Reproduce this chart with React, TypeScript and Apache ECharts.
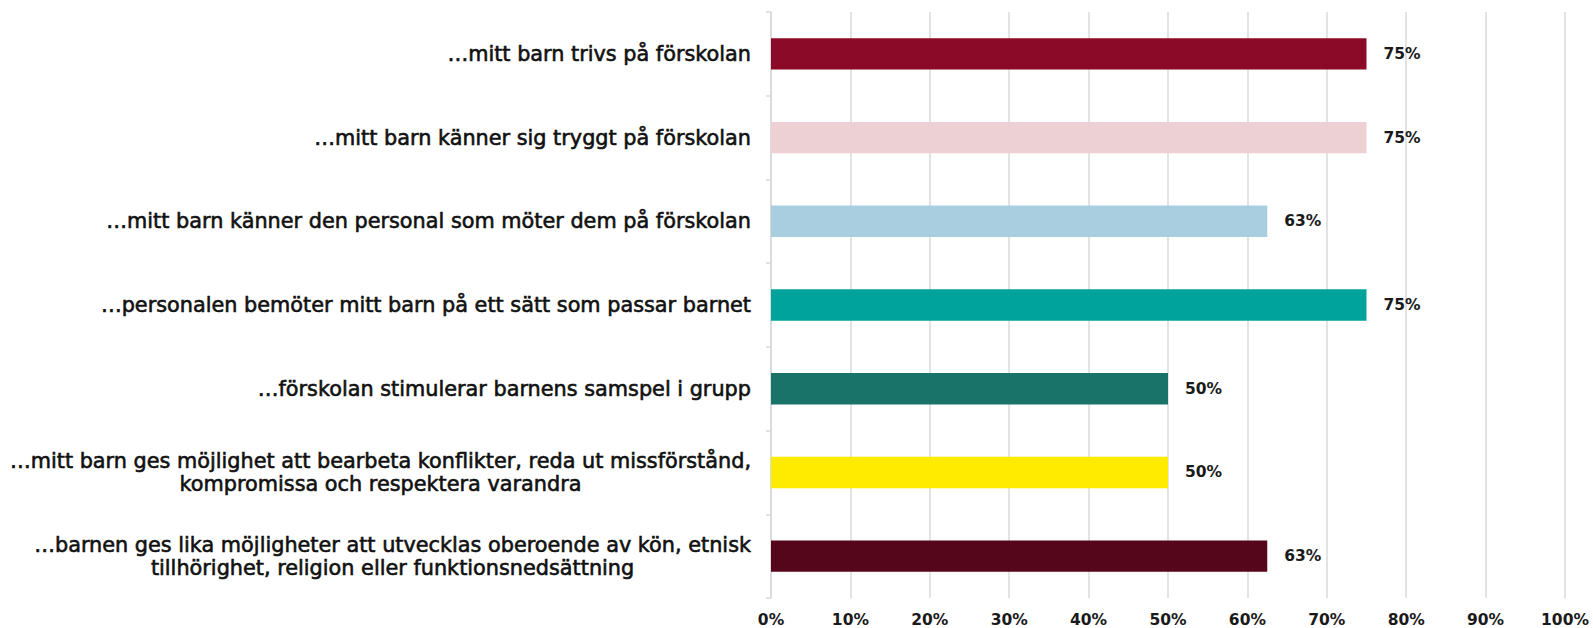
import React, { useEffect, useRef } from "react";
import * as echarts from "echarts";

const categories: string[] = [
  "…mitt barn trivs på förskolan",
  "…mitt barn känner sig tryggt på förskolan",
  "…mitt barn känner den personal som möter dem på förskolan",
  "…personalen bemöter mitt barn på ett sätt som passar barnet",
  "…förskolan stimulerar barnens samspel i grupp",
  "…mitt barn ges möjlighet att bearbeta konflikter, reda ut missförstånd,\nkompromissa och respektera varandra",
  "…barnen ges lika möjligheter att utvecklas oberoende av kön, etnisk\ntillhörighet, religion eller funktionsnedsättning",
];

const values: number[] = [75, 75, 62.5, 75, 50, 50, 62.5];

const barColors: string[] = [
  "#8B0A27",
  "#EDD0D3",
  "#A9CEE0",
  "#00A39B",
  "#1A7369",
  "#FFEB00",
  "#56061A",
];

const catFont = "'DejaVu Sans', sans-serif";
const numFont = "'DejaVu Sans', sans-serif";

export default function App() {
  const ref = useRef<HTMLDivElement>(null);
  useEffect(() => {
    document.body.style.margin = "0";
    if (!ref.current) return;
    const chart = echarts.init(ref.current, undefined, { renderer: "svg" });
    chart.setOption({
      animation: false,
      backgroundColor: "#ffffff",
      grid: { left: 771, right: 28, top: 12, bottom: 30, containLabel: false },
      xAxis: {
        type: "value",
        min: 0,
        max: 100,
        interval: 10,
        axisLine: { show: false },
        axisTick: { show: false },
        splitLine: { show: true, lineStyle: { color: "#e3e3e3", width: 2 } },
        axisLabel: {
          formatter: "{value}%",
          color: "#1a1a1a",
          fontFamily: numFont,
          fontWeight: "bold",
          fontSize: 15.5,
          margin: 14,
        },
      },
      yAxis: {
        type: "category",
        inverse: true,
        data: categories,
        axisLine: { show: true, lineStyle: { color: "#d9d9d9", width: 1.5 } },
        axisTick: { show: true, length: 5, lineStyle: { color: "#d9d9d9", width: 1.5 } },
        axisLabel: {
          margin: 20,
          formatter: (v: string) =>
            v.split("\n").map((l) => "{c|" + l + "}").join("\n"),
          rich: {
            c: {
              align: "center",
              fontFamily: catFont,
              fontWeight: "normal",
              fontSize: 20.8,
              color: "#111111",
              textBorderColor: "#111111",
              textBorderWidth: 0.6,
              lineHeight: 23,
            },
          },
        },
      },
      series: [
        {
          type: "bar",
          barWidth: "37.5%",
          data: values.map((v, i) => ({ value: v, itemStyle: { color: barColors[i] } })),
          label: {
            show: true,
            position: "right",
            distance: 17,
            formatter: (p: any) => Math.round(p.value) + "%",
            color: "#1a1a1a",
            fontFamily: numFont,
            fontWeight: "bold",
            fontSize: 15.5,
          },
        },
      ],
    });
    return () => chart.dispose();
  }, []);
  return <div ref={ref} style={{ width: 1593, height: 628 }} />;
}
